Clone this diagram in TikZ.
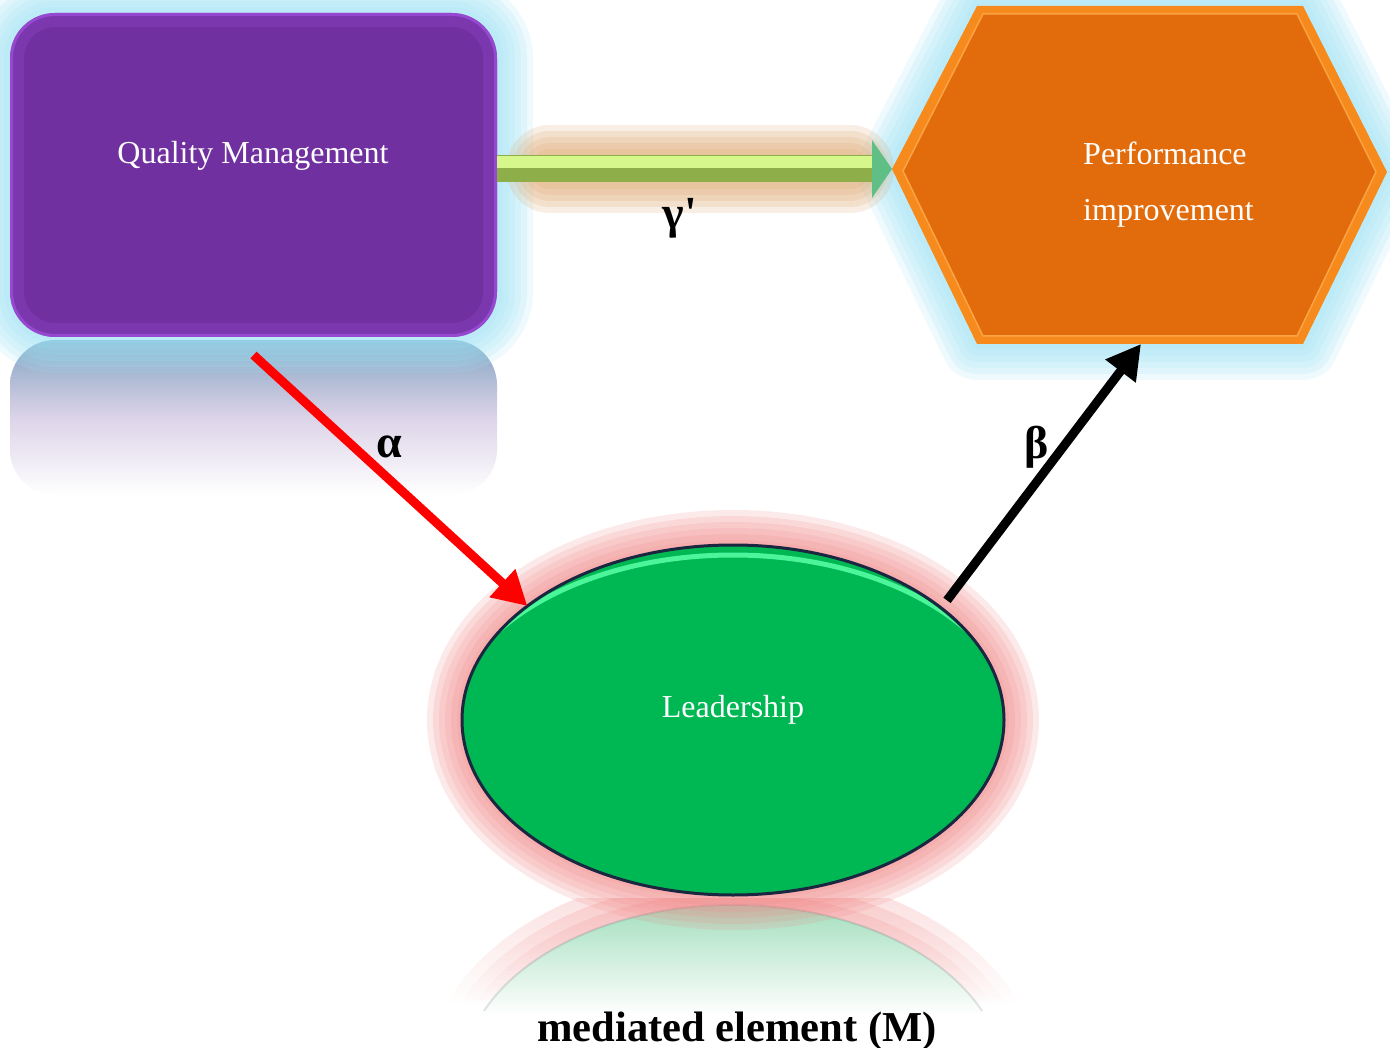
\documentclass[tikz,border=0pt]{standalone}
\usepackage{fontspec}
\setmainfont{Liberation Serif}
\usetikzlibrary{arrows.meta,positioning,shapes.geometric,fadings}

\definecolor{qmpurple}{HTML}{7030A0}
\definecolor{qmrim}{HTML}{B25CF2}
\definecolor{qmmirror}{HTML}{84A4C2}
\definecolor{qmmirrormid}{HTML}{DCD3E8}
\definecolor{perforange}{HTML}{E26C0B}
\definecolor{perfrim}{HTML}{F68A1C}
\definecolor{perfline}{HTML}{FBA446}
\definecolor{leadgreen}{HTML}{00B853}
\definecolor{leadrim}{HTML}{1B2640}
\definecolor{leadshine}{HTML}{4CF49A}
\definecolor{leadmirror}{HTML}{A2DEBC}
\definecolor{glowcyan}{HTML}{9FE2F4}
\definecolor{glowred}{HTML}{F08A8A}
\definecolor{glowtan}{HTML}{DDA871}
\definecolor{shaftlow}{HTML}{8DAE48}
\definecolor{shafthigh}{HTML}{D6F78C}
\definecolor{tipgreen}{HTML}{5FBF84}

\begin{document}
\begin{tikzpicture}[x=1pt,y=-1pt,
  glow/.style={line width=#1,opacity=0.18,line join=round},
  boxtext/.style={text=white,font=\fontsize{32}{40}\selectfont,inner sep=0},
  greek/.style={font=\fontsize{46}{54}\selectfont\bfseries,inner sep=0},
  qmbox/.style={rectangle,rounded corners=45pt,minimum width=487pt,minimum height=324pt,
    fill=qmpurple,inner sep=0,outer sep=0},
  leadoval/.style={ellipse,minimum width=542pt,minimum height=350pt,
    fill=leadgreen,draw=leadrim,line width=3pt,inner sep=0,outer sep=0},
  thinarrow/.style={line width=9pt,-{Triangle[length=34pt,width=36pt]}}]
\useasboundingbox (0,0) rectangle (1390,1048);

% hexagon corners
\coordinate (pw) at (892,169);
\coordinate (pnw) at (977,6);
\coordinate (pne) at (1303,6);
\coordinate (pe) at (1387,172);
\coordinate (pse) at (1303,344);
\coordinate (psw) at (977,344);
\coordinate (pb) at (1141,344);

% mirror images
\shade[top color=qmmirror,bottom color=white,middle color=qmmirrormid,rounded corners=45pt] (10,340) rectangle (497,495);
\begin{scope}
\clip (733,1080) ellipse [x radius=271, y radius=175];
\shade[top color=leadmirror,bottom color=white] (440,903) rectangle (1030,1015);
\end{scope}
\foreach \w in {12,24,36}
{
\begin{scope}[even odd rule]
\clip (733,1080) ellipse [x radius=271+\w, y radius=175+\w]
  (733,1080) ellipse [x radius=271, y radius=175];
\fill[glowred,opacity=0.25,path fading=south] (400,898) rectangle (1070,1005);
\end{scope}
}
\begin{scope}
\clip (400,895) rectangle (1070,1010);
\draw[leadrim,opacity=0.12,line width=2pt] (733,1080) ellipse [x radius=271, y radius=175];
\end{scope}

% glows
\foreach \w in {72,60,48,36,24,12}
  \draw[glowcyan,glow=\w pt,rounded corners=45pt] (10,13) rectangle (497,337);
\foreach \w in {72,60,48,36,24,12}
  \draw[glowcyan,glow=\w pt] (pw) -- (pnw) -- (pne) -- (pe) -- (pse) -- (psw) -- cycle;
\foreach \w in {70,58,46,34,22,10}
  \draw[glowred,glow=\w pt] (733,720) ellipse [x radius=271, y radius=175];
\foreach \w in {88,76,64,52,40}
  \draw[glowtan,glow=\w pt,opacity=0.2,line cap=round] (550,169) -- (850,169);

% quality management
\node[qmbox] (qm) at (253.5,175) {};
\begin{scope}
\clip[rounded corners=45pt] (qm.south west) rectangle (qm.north east);
\draw[qmrim,line width=28pt,opacity=0.18,rounded corners=45pt] (qm.south west) rectangle (qm.north east);
\draw[qmrim,line width=6pt,opacity=0.5,rounded corners=45pt] (qm.south west) rectangle (qm.north east);
\end{scope}
\node[boxtext,anchor=base] (qmtext) at (253,164) {Quality Management};

% performance improvement
\fill[perfrim] (pw) -- (pnw) -- (pne) -- (pe) -- (pse) -- (psw) -- cycle;
\filldraw[fill=perforange,draw=perfline,line width=1.5pt]
  (903,171) -- (983,14) -- (1297,14) -- (1376,172) -- (1297,336) -- (983,336) -- cycle;
\node[boxtext,anchor=base west] (perftop) at (1083,165) {Performance};
\node[boxtext,anchor=base west] (perfbot) at ([yshift=-56pt]perftop.base west) {improvement};

% leadership
\node[leadoval] (lead) at (733,720) {};
\begin{scope}
\clip (733,720) ellipse [x radius=269, y radius=173];
\draw[leadshine,line width=5pt] (733,731) ellipse [x radius=285, y radius=176];
\end{scope}
\node[boxtext,anchor=base] (leadtext) at (733,717) {Leadership};

% fat arrow
\coordinate (qe) at (qm.east |- pw);
\draw[shaftlow,line width=27pt,-{Triangle[length=20pt,width=57pt,color=tipgreen]}] (qe) -- (pw);
\draw[shafthigh,line width=12pt,shorten >=20pt] ([yshift=6.5pt]qe) -- ([yshift=6.5pt]pw);

% thin arrows
\draw[red,thinarrow] ([yshift=-18pt]qm.south) -- (lead.151);
\draw[black,thinarrow] ([xshift=12pt,yshift=3pt]lead.30) -- (pb);

% labels
\node[greek] (gamma) at (680,218) {γ\textquotesingle};
\node[greek] (alpha) at (389,447) {α};
\node[greek] (beta) at (1037,447) {β};
\node[font=\fontsize{42.6}{50}\selectfont\bfseries,anchor=base,inner sep=0] (med) at (737,1041) {mediated element (M)};
\end{tikzpicture}
\end{document}
